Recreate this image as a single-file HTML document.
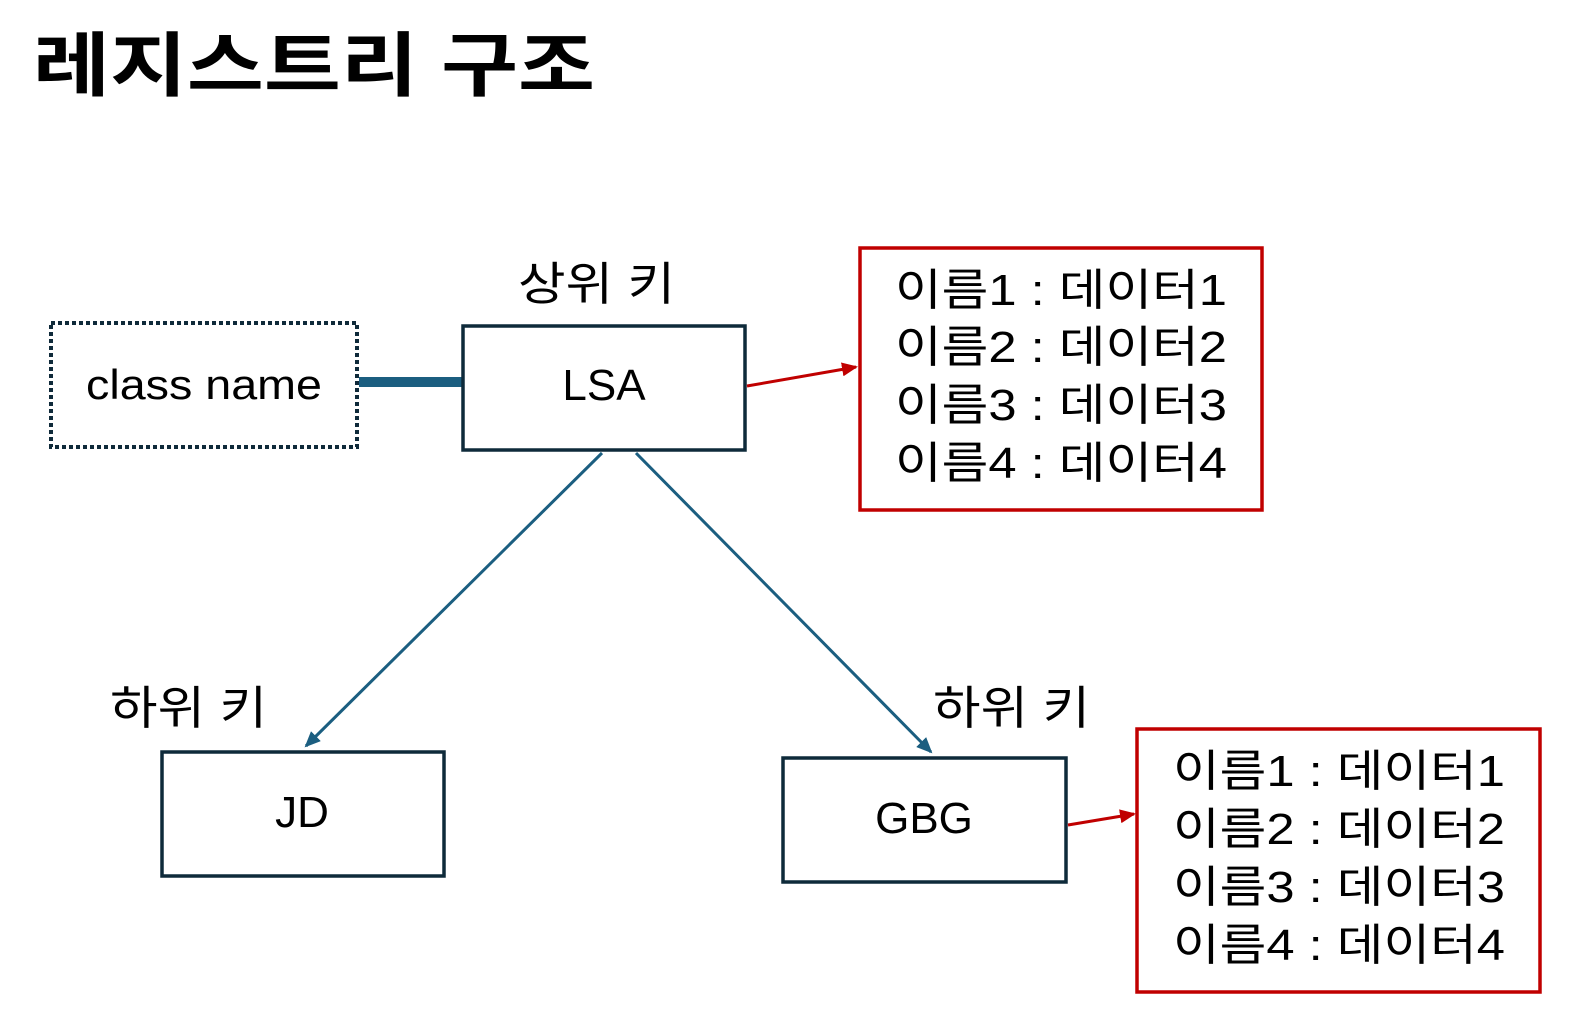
<!DOCTYPE html>
<html><head><meta charset="utf-8"><style>
html,body{margin:0;padding:0;background:#fff;}
svg{display:block;}
text{font-family:"Liberation Sans","Noto Sans CJK KR",sans-serif;fill:#000;}
</style></head><body>
<svg width="1581" height="1023" viewBox="0 0 1581 1023" xmlns="http://www.w3.org/2000/svg">
<defs>
<marker id="ab" markerWidth="16" markerHeight="14" refX="14" refY="7" orient="auto" markerUnits="userSpaceOnUse"><path d="M0,0 L16,7 L0,14 z" fill="#1b5e80"/></marker>
<marker id="ar2" markerWidth="16" markerHeight="14" refX="14" refY="7" orient="auto" markerUnits="userSpaceOnUse"><path d="M0,0 L16,7 L0,14 z" fill="#c00000"/></marker>
</defs>
<text x="33" y="90" font-size="70" font-weight="bold" font-family="'Noto Sans CJK KR',sans-serif" textLength="562" lengthAdjust="spacingAndGlyphs">레지스트리 구조</text>

<rect x="51" y="323" width="306" height="124" fill="none" stroke="#0f2a3a" stroke-width="4" stroke-dasharray="4,3"/>
<text x="204" y="399" font-size="42" text-anchor="middle" textLength="236" lengthAdjust="spacingAndGlyphs">class name</text>
<line x1="359" y1="382" x2="463" y2="382" stroke="#1b5e80" stroke-width="10"/>

<rect x="463" y="326" width="282" height="124" fill="none" stroke="#0e2a3a" stroke-width="3.5"/>
<text x="604" y="400" font-size="44" text-anchor="middle">LSA</text>
<text x="518" y="300" font-size="46" font-family="'Noto Sans CJK KR',sans-serif" textLength="157" lengthAdjust="spacingAndGlyphs">상위 키</text>

<line x1="747" y1="386" x2="856" y2="367" stroke="#c00000" stroke-width="3" marker-end="url(#ar2)"/>
<rect x="860" y="248" width="402" height="262" fill="none" stroke="#c00000" stroke-width="3.5"/>
<g font-size="44" font-family="'Liberation Sans','Noto Sans CJK KR',sans-serif">
<text x="895" y="305" textLength="332" lengthAdjust="spacingAndGlyphs">이름1 : 데이터1</text>
<text x="895" y="362" textLength="332" lengthAdjust="spacingAndGlyphs">이름2 : 데이터2</text>
<text x="895" y="420" textLength="332" lengthAdjust="spacingAndGlyphs">이름3 : 데이터3</text>
<text x="895" y="478" textLength="332" lengthAdjust="spacingAndGlyphs">이름4 : 데이터4</text>
<text x="1173" y="786" textLength="332" lengthAdjust="spacingAndGlyphs">이름1 : 데이터1</text>
<text x="1173" y="844" textLength="332" lengthAdjust="spacingAndGlyphs">이름2 : 데이터2</text>
<text x="1173" y="902" textLength="332" lengthAdjust="spacingAndGlyphs">이름3 : 데이터3</text>
<text x="1173" y="960" textLength="332" lengthAdjust="spacingAndGlyphs">이름4 : 데이터4</text>
</g>

<line x1="602" y1="453" x2="306" y2="746" stroke="#1b5e80" stroke-width="3" marker-end="url(#ab)"/>
<line x1="636" y1="453" x2="931" y2="752" stroke="#1b5e80" stroke-width="3" marker-end="url(#ab)"/>

<text x="110" y="724" font-size="46" font-family="'Noto Sans CJK KR',sans-serif" textLength="157" lengthAdjust="spacingAndGlyphs">하위 키</text>
<text x="933" y="724" font-size="46" font-family="'Noto Sans CJK KR',sans-serif" textLength="157" lengthAdjust="spacingAndGlyphs">하위 키</text>

<rect x="162" y="752" width="282" height="124" fill="none" stroke="#0e2a3a" stroke-width="3.5"/>
<text x="302" y="827" font-size="44" text-anchor="middle">JD</text>
<rect x="783" y="758" width="283" height="124" fill="none" stroke="#0e2a3a" stroke-width="3.5"/>
<text x="924" y="833" font-size="44" text-anchor="middle">GBG</text>

<line x1="1068" y1="825" x2="1134" y2="814" stroke="#c00000" stroke-width="3" marker-end="url(#ar2)"/>
<rect x="1137" y="729" width="403" height="263" fill="none" stroke="#c00000" stroke-width="3.5"/>
</svg>
</body></html>
